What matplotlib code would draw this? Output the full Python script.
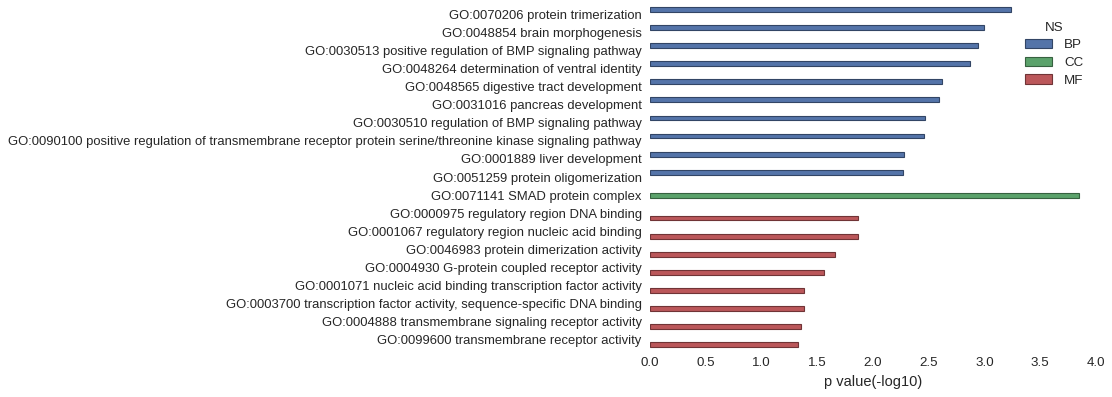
"""
GO 富集条形图：按 NS 分组 (BP / CC / MF)
"""

import numpy as np
import matplotlib
matplotlib.use("Agg")
import matplotlib.pyplot as plt
import seaborn as sns

terms = [
    "GO:0070206 protein trimerization",
    "GO:0048854 brain morphogenesis",
    "GO:0030513 positive regulation of BMP signaling pathway",
    "GO:0048264 determination of ventral identity",
    "GO:0048565 digestive tract development",
    "GO:0031016 pancreas development",
    "GO:0030510 regulation of BMP signaling pathway",
    "GO:0090100 positive regulation of transmembrane receptor protein serine/threonine kinase signaling pathway",
    "GO:0001889 liver development",
    "GO:0051259 protein oligomerization",
    "GO:0071141 SMAD protein complex",
    "GO:0000975 regulatory region DNA binding",
    "GO:0001067 regulatory region nucleic acid binding",
    "GO:0046983 protein dimerization activity",
    "GO:0004930 G-protein coupled receptor activity",
    "GO:0001071 nucleic acid binding transcription factor activity",
    "GO:0003700 transcription factor activity, sequence-specific DNA binding",
    "GO:0004888 transmembrane signaling receptor activity",
    "GO:0099600 transmembrane receptor activity",
]
ns = ["BP"] * 10 + ["CC"] + ["MF"] * 8
pvals = [3.24, 3.00, 2.94, 2.87, 2.62, 2.59, 2.47, 2.455, 2.28, 2.27,
         3.845,
         1.863, 1.863, 1.66, 1.56, 1.38, 1.38, 1.355, 1.325]

ns_levels = ["BP", "CC", "MF"]
ns_colors = ["#4C72B0", "#55A868", "#C44E52"]

sns.set_style("white")
plt.rcParams["font.family"] = ["Liberation Sans", "DejaVu Sans"]
plt.rcParams["text.color"] = "#262626"
plt.rcParams["xtick.color"] = "#262626"
plt.rcParams["ytick.color"] = "#262626"
plt.rcParams["axes.labelcolor"] = "#262626"

fig = plt.figure(figsize=(11.12, 3.97), dpi=100)
ax = fig.add_axes([0.5845, 0.121, 0.4011, 0.866])

y = np.arange(len(terms))
w = 0.8 / len(ns_levels)
ns_arr = np.array(ns)
vals = np.array(pvals)
for k, (lev, col) in enumerate(zip(ns_levels, ns_colors)):
    mask = ns_arr == lev
    c = sns.desaturate(col, 0.85)
    edge = tuple(np.array(matplotlib.colors.to_rgb(c)) * 0.6)
    ax.barh(y[mask] + (k - 1) * w, vals[mask], height=w, color=c,
            edgecolor=edge, linewidth=0.8, label=lev)

ax.set_yticks(y)
ax.set_yticklabels(terms, fontsize=9.4)
ax.set_ylim(len(terms) - 0.5, -0.5)
ax.set_xlim(0, 4.0)
ax.set_xticks(np.arange(0, 4.01, 0.5))
ax.set_xticklabels([f"{v:.1f}" for v in np.arange(0, 4.01, 0.5)], fontsize=9.6)
ax.set_xlabel("p value(-log10)", fontsize=10.5)
ax.tick_params(length=0, pad=6)
for s in ax.spines.values():
    s.set_visible(False)

leg = ax.legend(title="NS", loc="upper right", bbox_to_anchor=(0.99, 0.975),
                frameon=False, fontsize=9.6, title_fontsize=9.6,
                handlelength=2.0, labelspacing=0.4, borderaxespad=0.2,
                handletextpad=0.9)

fig.savefig("out.png", dpi=100)
